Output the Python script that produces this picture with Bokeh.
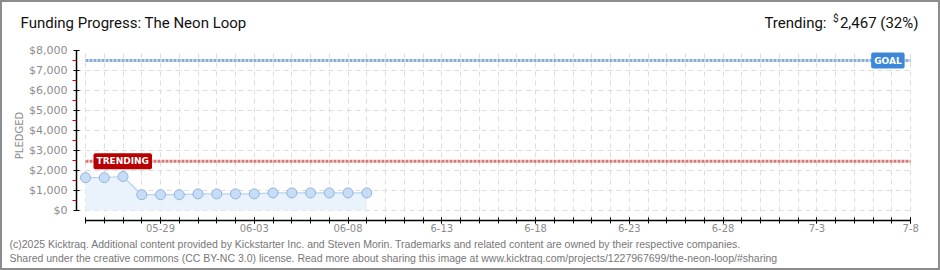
import pandas as pd
from bokeh.plotting import figure
from bokeh.layouts import column
from bokeh.models import (Range1d, FixedTicker, Label, LinearAxis, NumeralTickFormatter,
                          ColumnDataSource)
from bokeh.core.properties import value
from bokeh.embed import file_html
from bokeh.resources import INLINE

# ---------------- data ----------------
dates = ["2025-05-25", "2025-05-26", "2025-05-27", "2025-05-28", "2025-05-29",
         "2025-05-30", "2025-05-31", "2025-06-01", "2025-06-02", "2025-06-03",
         "2025-06-04", "2025-06-05", "2025-06-06", "2025-06-07", "2025-06-08",
         "2025-06-09"]
pledged = [1640, 1640, 1700, 790, 790, 790, 830, 830, 830, 830,
           880, 880, 880, 880, 880, 880]
end_date = "2025-07-08"
tick_dates = ["2025-05-29", "2025-06-03", "2025-06-08", "2025-06-13", "2025-06-18",
              "2025-06-23", "2025-06-28", "2025-07-03", "2025-07-08"]
tick_labels = ["05-29", "06-03", "06-08", "6-13", "6-18", "6-23", "6-28", "7-3", "7-8"]
y_ticks = [0, 1000, 2000, 3000, 4000, 5000, 6000, 7000, 8000]
goal = 7500
trending = 2467
trending_pct = 32
title = "Funding Progress: The Neon Loop"
footer1 = ("(c)2025 Kicktraq. Additional content provided by Kickstarter Inc. and Steven Morin. "
           "Trademarks and related content are owned by their respective companies.")
footer2 = ("Shared under the creative commons (CC BY-NC 3.0) license. Read more about sharing this "
           "image at www.kicktraq.com/projects/1227967699/the-neon-loop/#sharing")

# ---------------- derived ----------------
base = pd.Timestamp(dates[0])
x = [(pd.Timestamp(d) - base).days for d in dates]
x_end = (pd.Timestamp(end_date) - base).days
tick_x = [(pd.Timestamp(d) - base).days for d in tick_dates]
day_x = list(range(0, x_end + 1))

src = ColumnDataSource(dict(x=x, y=pledged, zero=[0] * len(x)))

W = 936
H_HDR, H_MAIN, H_FTR = 40, 194, 32


def blank(h):
    f = figure(width=W, height=h, output_backend="svg", toolbar_location=None,
               x_range=Range1d(0, W), y_range=Range1d(h, 0), frame_align=False,
               min_border=0, x_axis_location=None, y_axis_location=None)
    f.grid.visible = False
    f.outline_line_color = None
    f.background_fill_color = "white"
    f.border_fill_color = "white"
    return f


# ---------------- header ----------------
hdr = blank(H_HDR)
big = dict(text_font=value("Roboto"), text_font_size="15px", text_color="#111111",
           text_baseline="middle")
hdr.text(x=[18], y=[20], text=[title], text_align="left", **big)
hdr.text(x=[916], y=[20], text=[f"{trending:,} ({trending_pct}%)"], text_align="right", **big)
hdr.text(x=[836], y=[16], text=["$"], text_align="right", text_font=value("Roboto"),
         text_font_size="10px", text_color="#111111", text_baseline="middle")
hdr.text(x=[824], y=[20], text=["Trending:"], text_align="right", **big)

# ---------------- main chart ----------------
p = figure(width=W, height=H_MAIN, output_backend="svg", toolbar_location=None,
           x_range=Range1d(-0.48, x_end + 0.1), y_range=Range1d(-500, 8000), frame_align=False,
           min_border_left=74, min_border_right=26, min_border_top=8, min_border_bottom=16,
           x_axis_location=None, y_axis_location=None)
p.outline_line_color = None
p.background_fill_color = "white"
p.border_fill_color = "white"

xa = LinearAxis(ticker=FixedTicker(ticks=tick_x, minor_ticks=day_x),
                major_label_overrides={t: l for t, l in zip(tick_x, tick_labels)},
                bounds=(0, x_end))
xa.axis_line_color = "black"
xa.axis_line_width = 1.5
xa.major_tick_line_color = "black"
xa.minor_tick_line_color = "black"
xa.major_tick_in = 3
xa.major_tick_out = 3
xa.minor_tick_in = 3
xa.minor_tick_out = 3
xa.major_label_text_color = "#8c8c8c"
xa.major_label_text_font = "DejaVu Sans"
xa.major_label_text_font_size = "10px"
xa.major_label_standoff = 0
p.add_layout(xa, "below")

ya = LinearAxis(ticker=FixedTicker(ticks=y_ticks, minor_ticks=[v + 500 for v in y_ticks[:-1]]),
                formatter=NumeralTickFormatter(format="$0,0"), bounds=(0, 8000),
                axis_label="PLEDGED")
ya.axis_line_color = "black"
ya.axis_line_width = 1.5
ya.major_tick_line_color = "black"
ya.major_tick_in = 3
ya.major_tick_out = 3
ya.minor_tick_line_color = "#e00000"
ya.minor_tick_in = 0
ya.minor_tick_out = 4
ya.major_label_text_color = "#8c8c8c"
ya.major_label_text_font = "DejaVu Sans"
ya.major_label_text_font_size = "11px"
ya.major_label_standoff = 5
ya.axis_label_text_color = "#8c8c8c"
ya.axis_label_text_font = "DejaVu Sans"
ya.axis_label_text_font_size = "10px"
ya.axis_label_text_font_style = "normal"
ya.axis_label_standoff = 1
p.add_layout(ya, "left")

p.xgrid.ticker = FixedTicker(ticks=day_x)
p.ygrid.ticker = FixedTicker(ticks=y_ticks)
p.xgrid.bounds = (0, 8000)
p.ygrid.bounds = (0, x_end)
for g in (p.xgrid, p.ygrid):
    g.grid_line_color = "#dddddd"
    g.grid_line_dash = "5 4"
    g.grid_line_width = 1

p.varea(x="x", y1="zero", y2="y", source=src, fill_color="#eaf2fc")
p.line(x="x", y="y", source=src, line_color="#b5d2f0", line_width=1.2)
p.scatter(x="x", y="y", source=src, size=10, fill_color="#c6ddf7", line_color="#93b3dc",
          line_width=1)

p.segment(x0=[0], x1=[x_end], y0=[trending], y1=[trending], line_color="#d06060",
          line_width=3, line_dash="3 1", line_alpha=0.85)
p.segment(x0=[0], x1=[x_end], y0=[goal], y1=[goal], line_color="#86acd9",
          line_width=3, line_dash="3 1")

p.add_layout(Label(x=0, y=trending, text="TRENDING", x_offset=8, text_baseline="middle",
                   text_color="white", text_font="DejaVu Sans", text_font_size="9px",
                   text_font_style="bold", background_fill_color="#b80000", padding=3,
                   border_radius=2))
p.add_layout(Label(x=x_end, y=goal, text="GOAL", x_offset=-6, text_align="right",
                   text_baseline="middle", text_color="white", text_font="DejaVu Sans",
                   text_font_size="9px", text_font_style="bold",
                   background_fill_color="#3d87d9", padding=3, border_radius=2))

# ---------------- footer ----------------
ftr = blank(H_FTR)
small = dict(text_font=value("Liberation Sans"), text_font_size="10.5px", text_color="#777777",
             text_baseline="middle", text_align="left")
ftr.text(x=[7], y=[7], text=[footer1], **small)
ftr.text(x=[7], y=[21], text=[footer2], **small)

lay = column(hdr, p, ftr, spacing=0)
lay.styles = {"border": "2px solid #8c8c8c", "background-color": "white"}

open("out.html", "w").write(file_html(lay, INLINE))
